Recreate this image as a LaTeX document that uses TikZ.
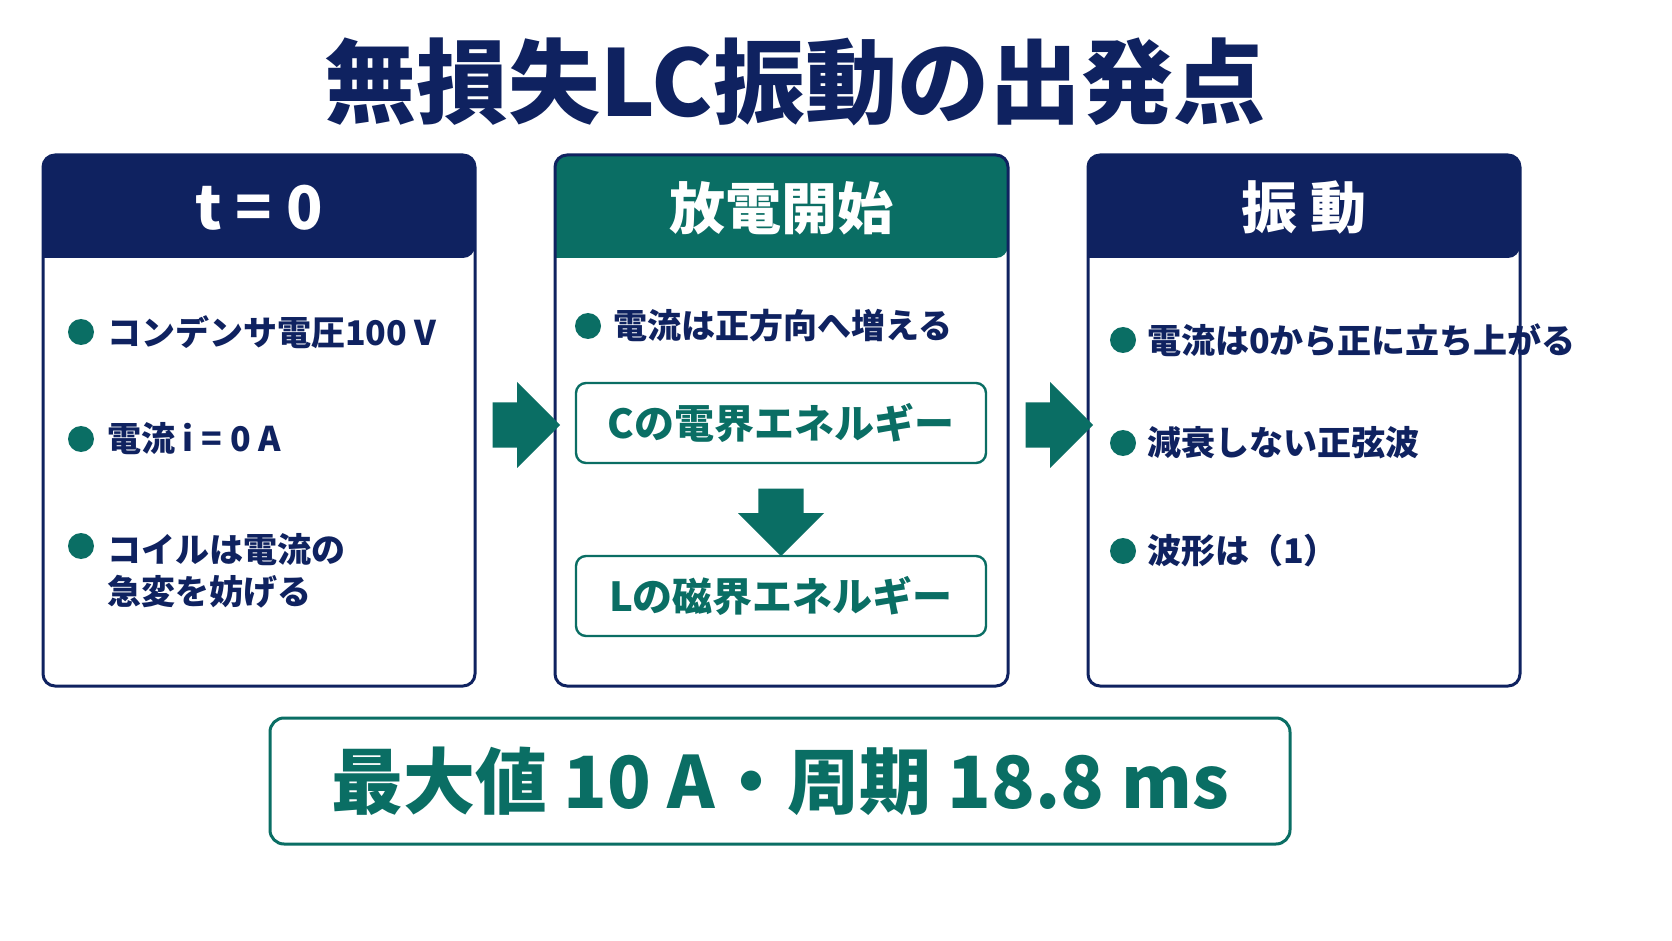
\documentclass[tikz,border=0pt]{standalone}
\usepackage{fontspec}
\setmainfont{Noto Sans CJK JP}
\usetikzlibrary{shapes.arrows}
\definecolor{navy}{HTML}{0F2260}
\definecolor{teal}{HTML}{0A6E64}
\tikzset{
  panel/.style={draw=navy,line width=1.5pt,rounded corners=6pt},
  item/.style={anchor=west,text=navy,font=\fontsize{17}{21}\selectfont\bfseries,align=left},
  dot/.style={circle,fill=teal,inner sep=0pt,minimum size=13pt},
  inner/.style={draw=teal,line width=1.2pt,rounded corners=5pt,minimum width=205pt,minimum height=40pt,text=teal,font=\fontsize{20}{24}\selectfont\bfseries},
  bigarrow/.style={single arrow,fill=teal,minimum width=43pt,single arrow head extend=10pt,minimum height=33pt,inner sep=11pt}
}
\begin{document}
\begin{tikzpicture}[x=0.5pt,y=-0.5pt]
\fill[white] (0,0) rectangle (1672,941);
\node[text=navy,font=\fontsize{46}{50}\selectfont\bfseries] (title) at (795,82) {無損失LC振動の出発点};
% panels
\foreach \xa/\xb/\col/\nm in {43/475/navy/p1,555/1008/teal/p2,1088/1520/navy/p3}{
  \fill[\col,rounded corners=6pt] (\xa,155) -- (\xb,155) -- (\xb,258) [sharp corners] -- (\xa,258) [rounded corners=6pt] -- cycle;
  \draw[panel] (\xa,155) rectangle (\xb,686);
}
\node[text=white,font=\fontsize{30}{34}\selectfont\bfseries] (h1) at (259,208) {\textit{t} = 0};
\node[text=white,font=\fontsize{28}{32}\selectfont\bfseries] (h2) at (781,208) {放電開始};
\node[text=white,font=\fontsize{28}{32}\selectfont\bfseries] (h3) at (1304,208) {振 動};
% left panel
\node[dot] (d1) at (81,332) {}; \node[item] (t1) at (100,332) {コンデンサ電圧100 V};
\node[dot] (d2) at (81,439) {}; \node[item] (t2) at (100,439) {電流 \textit{i} = 0 A};
\node[dot] (d3) at (81,546) {}; \node[item,anchor=north west] (t3) at (100,526) {コイルは電流の\\急変を妨げる};
% middle panel
\node[dot] (d4) at (588,326) {}; \node[item] (t4) at (606,326) {電流は正方向へ増える};
\node[inner] (ce) at (781,423) {\textit{C}の電界エネルギー};
\node[inner] (le) at (781,596) {\textit{L}の磁界エネルギー};
\node[bigarrow,shape border rotate=270] (down) at (781,511) {};
% right panel
\node[dot] (d5) at (1123,340) {}; \node[item] (t5) at (1140,340) {電流は0から正に立ち上がる};
\node[dot] (d6) at (1123,443) {}; \node[item] (t6) at (1140,443) {減衰しない正弦波};
\node[dot] (d7) at (1123,551) {}; \node[item] (t7) at (1140,551) {波形は（1）};
% arrows between panels
\node[bigarrow] (a1) at (515,425) {};
\node[bigarrow] (a2) at (1048,425) {};
% result
\node[draw=teal,line width=1.5pt,rounded corners=7pt,minimum width=510pt,minimum height=63pt,text=teal,font=\fontsize{36}{40}\selectfont\bfseries] (res) at (780,781) {最大値 10 A・周期 18.8 ms};
\pgfresetboundingbox
\useasboundingbox (0,0) rectangle (1672,941);
\end{tikzpicture}
\end{document}
